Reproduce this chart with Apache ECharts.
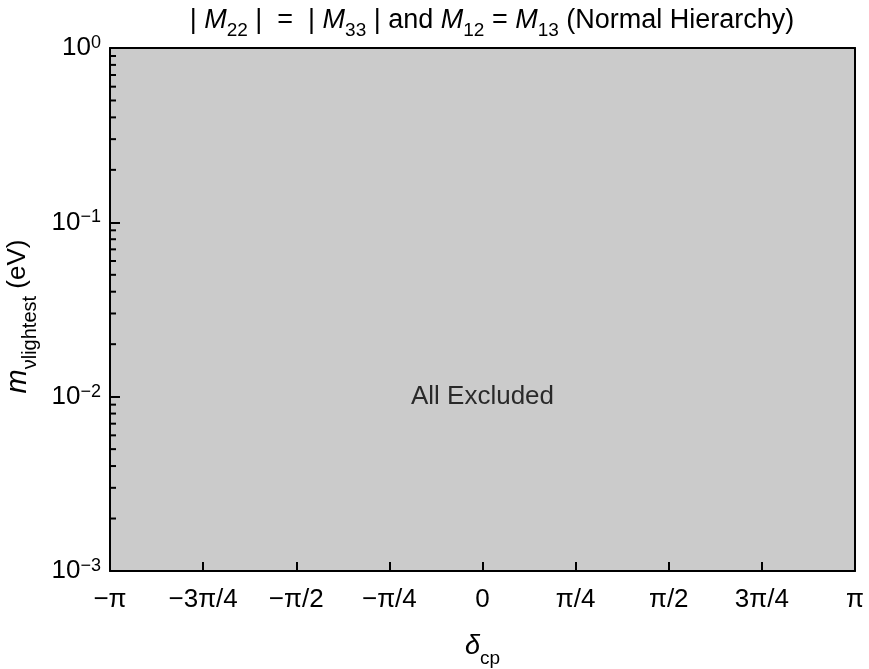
<!DOCTYPE html>
<html>
<head>
<meta charset="utf-8">
<script src="https://cdn.jsdelivr.net/npm/echarts@6/dist/echarts.min.js"></script>
<style>html,body{margin:0;padding:0;background:#fff}#c{width:869px;height:669px}</style>
</head>
<body>
<div id="c"></div>
<script>
// x in units of pi
var regionX = [-1, 1];
var regionTop = [1, 1];
var xTickValues = [-1, -0.75, -0.5, -0.25, 0, 0.25, 0.5, 0.75, 1];
var xTickLabels = ['\u2212\u03c0', '\u22123\u03c0/4', '\u2212\u03c0/2', '\u2212\u03c0/4', '0', '\u03c0/4', '\u03c0/2', '3\u03c0/4', '\u03c0'];
var yTickValues = [0.001, 0.01, 0.1, 1];
var yTickExponents = ['\u22123', '\u22122', '\u22121', '0'];
var yMinorTicks = [0.002,0.003,0.004,0.005,0.006,0.007,0.008,0.009,
                   0.02,0.03,0.04,0.05,0.06,0.07,0.08,0.09,
                   0.2,0.3,0.4,0.5,0.6,0.7,0.8,0.9];
var annotation = { x: 0, y: 0.01, text: 'All Excluded' };

var FONT = 'Liberation Sans';
var FS = 25;
var chart = echarts.init(document.getElementById('c'));

var areaData = regionX.map(function (x, i) { return [x, regionTop[i]]; });

chart.setOption({
  animation: false,
  textStyle: { fontFamily: FONT, color: '#000' },
  title: {
    left: 487, top: 2, textAlign: 'center',
    text: '| {i|M}{sub|22} |  =  | {i|M}{sub|33} | and {i|M}{sub|12} = {i|M}{sub|13} (Normal Hierarchy)',
    textStyle: {
      fontFamily: FONT, fontSize: 27, fontWeight: 'normal', color: '#000',
      rich: {
        i: { fontFamily: FONT, fontSize: 27, fontStyle: 'italic', color: '#000' },
        sub: { fontFamily: FONT, fontSize: 19, color: '#000', verticalAlign: 'bottom', lineHeight: 26, padding: [0,0,-6,0] }
      }
    }
  },
  grid: { left: 110, right: 14, top: 48, bottom: 98, show: false, containLabel: false, outerBoundsMode: 'none' },
  xAxis: [{
    type: 'value', min: -1, max: 1, interval: 0.25,
    position: 'bottom', z: 10,
    axisLine: { show: true, onZero: false, lineStyle: { color: '#000', width: 2 } },
    axisTick: { show: true, inside: true, length: 9, lineStyle: { color: '#000', width: 2 } },
    splitLine: { show: false },
    axisLabel: {
      margin: 16, fontSize: 26, color: '#000', fontFamily: FONT,
      formatter: function (v) {
        for (var i = 0; i < xTickValues.length; i++) if (Math.abs(v - xTickValues[i]) < 1e-9) return xTickLabels[i];
        return '';
      }
    },
    name: '{i|\u03b4}{sub|cp}', nameLocation: 'middle', nameGap: 62,
    nameTextStyle: {
      fontSize: FS, color: '#000',
      rich: {
        i: { fontFamily: FONT, fontSize: 27, fontStyle: 'italic', color: '#000' },
        sub: { fontFamily: FONT, fontSize: 19, color: '#000', verticalAlign: 'bottom', padding: [0,0,-8,0] }
      }
    }
  }, {
    type: 'value', min: -1, max: 1, position: 'top', z: 10,
    axisLine: { show: true, onZero: false, lineStyle: { color: '#000', width: 2 } },
    axisTick: { show: false }, axisLabel: { show: false }, splitLine: { show: false }
  }],
  yAxis: [{
    type: 'log', logBase: 10, min: 0.001, max: 1, z: 10,
    position: 'left',
    axisLine: { show: true, onZero: false, lineStyle: { color: '#000', width: 2 } },
    axisTick: { show: true, inside: true, length: 10, lineStyle: { color: '#000', width: 2 } },
    minorTick: { show: false },
    splitLine: { show: false },
    axisLabel: {
      margin: 9, color: '#000', fontFamily: FONT,
      formatter: function (v) {
        for (var i = 0; i < yTickValues.length; i++) if (Math.abs(Math.log10(v) - Math.log10(yTickValues[i])) < 1e-6)
          return '{b|10}{s|' + yTickExponents[i] + '}';
        return '';
      },
      rich: {
        b: { fontFamily: FONT, fontSize: 26, color: '#000', lineHeight: 28 },
        s: { fontFamily: FONT, fontSize: 18, color: '#000', verticalAlign: 'top', lineHeight: 28, padding: [0,0,12,0] }
      }
    },
    name: '{i|m}{sub|\u03bdlightest} (eV)', nameLocation: 'middle', nameGap: 66, nameRotate: 90,
    nameTextStyle: {
      fontSize: 26, color: '#000', fontFamily: FONT, padding: [0, 14, 0, 0],
      rich: {
        i: { fontFamily: FONT, fontSize: 29, fontStyle: 'italic', color: '#000' },
        sub: { fontFamily: FONT, fontSize: 20, color: '#000', verticalAlign: 'bottom', padding: [0,0,-8,0] }
      }
    }
  }, {
    type: 'log', min: 0.001, max: 1, position: 'right', z: 10,
    axisLine: { show: true, onZero: false, lineStyle: { color: '#000', width: 2 } },
    axisTick: { show: false }, axisLabel: { show: false }, splitLine: { show: false }
  }],
  series: [{
    type: 'line', xAxisIndex: 0, yAxisIndex: 0,
    data: areaData, symbol: 'none',
    lineStyle: { width: 0 },
    areaStyle: { color: '#cbcbcb', opacity: 1, origin: 'start' },
    z: 1
  }, {
    type: 'custom', xAxisIndex: 0, yAxisIndex: 0, z: 11,
    data: yMinorTicks.map(function (v) { return [-1, v]; }),
    renderItem: function (params, api) {
      var p = api.coord([api.value(0), api.value(1)]);
      return { type: 'line', shape: { x1: p[0], y1: p[1], x2: p[0] + 6, y2: p[1] },
               style: { stroke: '#000', lineWidth: 2 } };
    }
  }, {
    type: 'scatter', xAxisIndex: 0, yAxisIndex: 0, z: 12,
    data: [[annotation.x, annotation.y]], symbolSize: 0,
    label: { show: true, position: 'inside', formatter: annotation.text, offset: [0, 0],
             fontFamily: FONT, fontSize: 26, color: '#000' }
  }]
});
</script>
</body>
</html>
